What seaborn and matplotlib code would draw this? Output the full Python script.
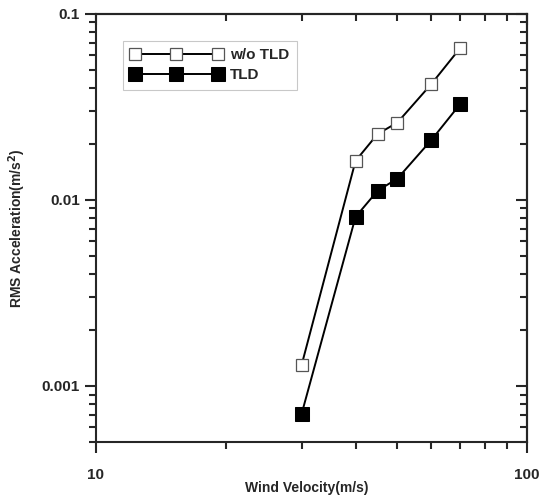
import pandas as pd
import matplotlib
matplotlib.use('Agg')
import matplotlib.pyplot as plt
import seaborn as sns
from matplotlib.ticker import LogLocator, NullFormatter, FixedLocator, FixedFormatter


# Chart data
wind_velocity = [30, 40, 45, 50, 60, 70]
rms_without_tld = [0.0013, 0.0162, 0.0226, 0.026, 0.042, 0.0656]
rms_with_tld = [0.00071, 0.0081, 0.0112, 0.013, 0.021, 0.0328]
x_ticks = [10, 100]
x_tick_labels = ['10', '100']
y_ticks = [0.001, 0.01, 0.1]
y_tick_labels = ['0.001', '0.01', '0.1']

df = pd.DataFrame({
    'velocity': wind_velocity * 2,
    'rms': rms_without_tld + rms_with_tld,
    'case': ['w/o TLD'] * len(wind_velocity) + ['TLD'] * len(wind_velocity),
})

sns.set_style('ticks')
plt.rcParams['font.family'] = ['Liberation Sans', 'DejaVu Sans']

fig = plt.figure(figsize=(5.39, 4.98), dpi=100)
ax = fig.add_axes([0.178, 0.1124, 0.80, 0.860])

# open squares, no TLD
sns.lineplot(data=df[df['case'] == 'w/o TLD'], x='velocity', y='rms', ax=ax,
             color='black', linewidth=1.4, marker='s', markersize=8,
             markerfacecolor='white', markeredgecolor='#555555',
             markeredgewidth=0.9, label='w/o TLD')
# filled squares, with TLD
sns.lineplot(data=df[df['case'] == 'TLD'], x='velocity', y='rms', ax=ax,
             color='black', linewidth=1.4, marker='s', markersize=10,
             markerfacecolor='black', markeredgecolor='black', label='TLD')

ax.set_xscale('log')
ax.set_yscale('log')
ax.set_xlim(10, 100)
ax.set_ylim(0.0005, 0.1)

minor_subs = [2, 3, 4, 5, 6, 7, 8, 9]
ax.xaxis.set_major_locator(FixedLocator(x_ticks))
ax.xaxis.set_major_formatter(FixedFormatter(x_tick_labels))
ax.yaxis.set_major_locator(FixedLocator(y_ticks))
ax.yaxis.set_major_formatter(FixedFormatter(y_tick_labels))
ax.xaxis.set_minor_locator(LogLocator(base=10, subs=minor_subs))
ax.yaxis.set_minor_locator(LogLocator(base=10, subs=minor_subs))
ax.xaxis.set_minor_formatter(NullFormatter())
ax.yaxis.set_minor_formatter(NullFormatter())

ax.tick_params(which='major', direction='out', length=8, width=1.5, labelsize=11)
ax.tick_params(which='minor', direction='out', length=5, width=1.5)
ax.tick_params(axis='x', which='major', pad=11)
for lbl in ax.get_xticklabels() + ax.get_yticklabels():
    lbl.set_fontweight('bold')

for side in ['left', 'bottom', 'right', 'top']:
    ax.spines[side].set_visible(True)
    ax.spines[side].set_linewidth(1.5)

# mirrored ticks pointing inward on top and right
top = ax.secondary_xaxis('top')
top.xaxis.set_major_locator(FixedLocator(x_ticks))
top.xaxis.set_minor_locator(LogLocator(base=10, subs=minor_subs))
top.xaxis.set_major_formatter(NullFormatter())
top.xaxis.set_minor_formatter(NullFormatter())
top.tick_params(which='major', direction='in', length=8, width=1.5, labeltop=False)
top.tick_params(which='minor', direction='in', length=5, width=1.5)
top.spines['top'].set_linewidth(1.5)
right = ax.secondary_yaxis('right')
right.yaxis.set_major_locator(FixedLocator(y_ticks))
right.yaxis.set_minor_locator(LogLocator(base=10, subs=minor_subs))
right.yaxis.set_major_formatter(NullFormatter())
right.yaxis.set_minor_formatter(NullFormatter())
right.tick_params(which='major', direction='in', length=8, width=1.5, labelright=False)
right.tick_params(which='minor', direction='in', length=5, width=1.5)
right.spines['right'].set_linewidth(1.5)

ax.set_xlabel('Wind Velocity(m/s)', fontsize=10, fontweight='bold')
ax.set_ylabel('RMS Acceleration(m/s$^\\mathbf{2}$)', fontsize=10, fontweight='bold', labelpad=10)
ax.xaxis.set_label_coords(0.49, -0.092)

leg = ax.legend(loc='upper left', bbox_to_anchor=(0.045, 0.955), numpoints=3,
                handlelength=6, frameon=True, fancybox=False,
                borderpad=0.5, handletextpad=0.5, labelspacing=0.4,
                prop={'weight': 'bold', 'size': 11})
leg.get_frame().set_edgecolor('#bbbbbb')
leg.get_frame().set_linewidth(0.8)

fig.savefig('out.png', dpi=100)
